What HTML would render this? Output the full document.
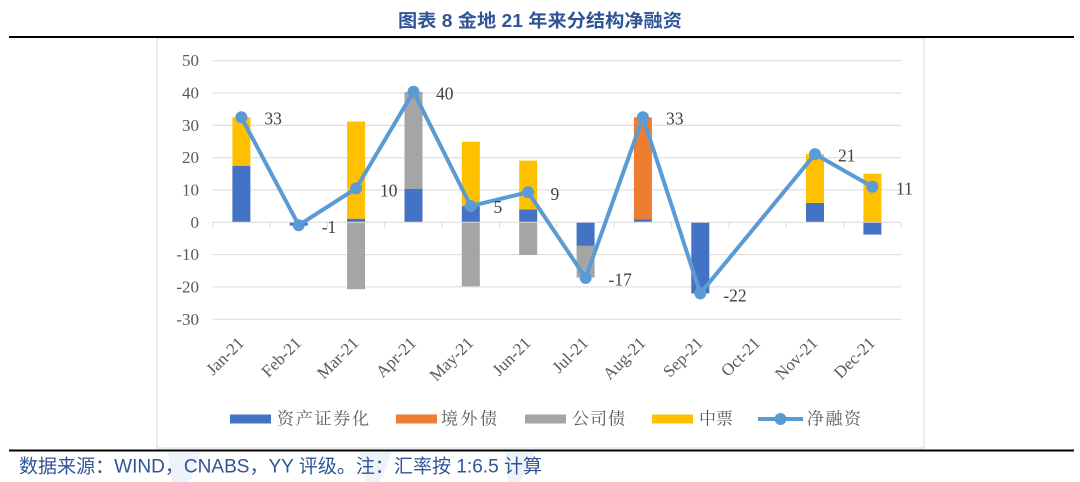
<!DOCTYPE html>
<html>
<head>
<meta charset="utf-8">
<style>
html,body{margin:0;padding:0;background:#fff;}
svg{display:block;}
</style>
</head>
<body>
<svg width="1080" height="482" viewBox="0 0 1080 482" xmlns="http://www.w3.org/2000/svg">
  <rect x="0" y="0" width="1080" height="482" fill="#fff"/>
  <!-- faint watermark -->
  <g fill="#e9f0f8" opacity="0.8">
    <polygon points="168,452 200,452 190,482 172,482"/>
    <polygon points="360,452 392,452 380,482 366,482"/>
    <polygon points="505,452 535,452 520,482 508,482"/>
  </g>

  <!-- title -->
  <text x="540" y="21" text-anchor="middle" dominant-baseline="central" font-family="'Liberation Sans','Noto Sans CJK SC',sans-serif" font-size="18" font-weight="bold" fill="#2f5597" textLength="284" lengthAdjust="spacingAndGlyphs">图表 8 金地 21 年来分结构净融资</text>

  <!-- chart box -->
  <rect x="157" y="38" width="767" height="410" fill="#fff" stroke="#d9d9d9" stroke-width="1"/>

  <!-- top / bottom rules -->
  <rect x="9" y="36" width="1065" height="2" fill="#000"/>
  <rect x="9" y="449.5" width="1065" height="2" fill="#000"/>

  <!-- gridlines -->
  <g stroke="#d9d9d9" stroke-width="1">
    <line x1="212.7" x2="901" y1="60.7" y2="60.7"/>
    <line x1="212.7" x2="901" y1="93" y2="93"/>
    <line x1="212.7" x2="901" y1="125.3" y2="125.3"/>
    <line x1="212.7" x2="901" y1="157.7" y2="157.7"/>
    <line x1="212.7" x2="901" y1="189.9" y2="189.9"/>
    <line x1="212.7" x2="901" y1="254.6" y2="254.6"/>
    <line x1="212.7" x2="901" y1="286.9" y2="286.9"/>
    <line x1="212.7" x2="901" y1="319.3" y2="319.3"/>
  </g>

  <!-- y labels -->
  <g font-family="'Liberation Serif',serif" font-size="17" fill="#595959" text-anchor="end" dominant-baseline="central">
    <text x="199" y="60.7">50</text>
    <text x="199" y="93">40</text>
    <text x="199" y="125.3">30</text>
    <text x="199" y="157.7">20</text>
    <text x="199" y="189.9">10</text>
    <text x="199" y="222.3">0</text>
    <text x="199" y="254.6">-10</text>
    <text x="199" y="286.9">-20</text>
    <text x="199" y="319.3">-30</text>
  </g>

  <!-- bars -->
  <!-- Jan -->
  <rect x="232.4" y="165.7" width="18" height="56.6" fill="#4472c4"/>
  <rect x="232.4" y="117.3" width="18" height="48.4" fill="#ffc000"/>
  <!-- Feb -->
  <rect x="289.7" y="222.3" width="18" height="3.3" fill="#4472c4"/>
  <!-- Mar -->
  <rect x="347.1" y="218.7" width="18" height="3.6" fill="#4472c4"/>
  <rect x="347.1" y="121.5" width="18" height="97.2" fill="#ffc000"/>
  <rect x="347.1" y="222.3" width="18" height="66.9" fill="#a5a5a5"/>
  <!-- Apr -->
  <rect x="404.5" y="189" width="18" height="33.3" fill="#4472c4"/>
  <rect x="404.5" y="92" width="18" height="97" fill="#a5a5a5"/>
  <!-- May -->
  <rect x="461.8" y="206.1" width="18" height="16.2" fill="#4472c4"/>
  <rect x="461.8" y="141.8" width="18" height="64.3" fill="#ffc000"/>
  <rect x="461.8" y="222.3" width="18" height="64" fill="#a5a5a5"/>
  <!-- Jun -->
  <rect x="519.2" y="209.4" width="18" height="12.9" fill="#4472c4"/>
  <rect x="519.2" y="160.6" width="18" height="48.8" fill="#ffc000"/>
  <rect x="519.2" y="222.3" width="18" height="32.6" fill="#a5a5a5"/>
  <!-- Jul -->
  <rect x="576.6" y="222.3" width="18" height="23.6" fill="#4472c4"/>
  <rect x="576.6" y="245.9" width="18" height="31.7" fill="#a5a5a5"/>
  <!-- Aug -->
  <rect x="633.9" y="219.1" width="18" height="3.2" fill="#4472c4"/>
  <rect x="633.9" y="117.3" width="18" height="101.8" fill="#ed7d31"/>
  <!-- Sep -->
  <rect x="691.3" y="222.3" width="18" height="71.1" fill="#4472c4"/>
  <!-- Nov -->
  <rect x="806" y="202.9" width="18" height="19.4" fill="#4472c4"/>
  <rect x="806" y="154.1" width="18" height="48.8" fill="#ffc000"/>
  <!-- Dec -->
  <rect x="863.4" y="222.3" width="18" height="12.3" fill="#4472c4"/>
  <rect x="863.4" y="173.8" width="18" height="48.5" fill="#ffc000"/>

  <!-- zero axis and ticks -->
  <g stroke="#d9d9d9" stroke-width="1">
    <line x1="212.7" x2="901" y1="222.3" y2="222.3"/>
    <line x1="212.7" x2="212.7" y1="222.3" y2="227.5"/>
    <line x1="270.1" x2="270.1" y1="222.3" y2="227.5"/>
    <line x1="327.4" x2="327.4" y1="222.3" y2="227.5"/>
    <line x1="384.8" x2="384.8" y1="222.3" y2="227.5"/>
    <line x1="442.1" x2="442.1" y1="222.3" y2="227.5"/>
    <line x1="499.5" x2="499.5" y1="222.3" y2="227.5"/>
    <line x1="556.9" x2="556.9" y1="222.3" y2="227.5"/>
    <line x1="614.2" x2="614.2" y1="222.3" y2="227.5"/>
    <line x1="671.6" x2="671.6" y1="222.3" y2="227.5"/>
    <line x1="728.9" x2="728.9" y1="222.3" y2="227.5"/>
    <line x1="786.3" x2="786.3" y1="222.3" y2="227.5"/>
    <line x1="843.7" x2="843.7" y1="222.3" y2="227.5"/>
    <line x1="901" x2="901" y1="222.3" y2="227.5"/>
  </g>

  <!-- net line -->
  <polyline points="241.4,117.3 298.7,225.2 356.1,188.4 413.5,91.7 470.8,206.1 528.2,192.2 585.6,277.9 642.9,117.3 700.3,293.4 815,154.1 872.4,186.7" fill="none" stroke="#5b9bd5" stroke-width="4" stroke-linejoin="round"/>
  <g fill="#5b9bd5">
    <circle cx="241.4" cy="117.3" r="6"/>
    <circle cx="298.7" cy="225.2" r="6"/>
    <circle cx="356.1" cy="188.4" r="6"/>
    <circle cx="413.5" cy="91.7" r="6"/>
    <circle cx="470.8" cy="206.1" r="6"/>
    <circle cx="528.2" cy="192.2" r="6"/>
    <circle cx="585.6" cy="277.9" r="6"/>
    <circle cx="642.9" cy="117.3" r="6"/>
    <circle cx="700.3" cy="293.4" r="6"/>
    <circle cx="815" cy="154.1" r="6"/>
    <circle cx="872.4" cy="186.7" r="6"/>
  </g>

  <!-- data labels -->
  <g font-family="'Liberation Serif',serif" font-size="17.5" fill="#404040" dominant-baseline="central">
    <text x="264.4" y="118.5">33</text>
    <text x="321.7" y="227">-1</text>
    <text x="380" y="190.5">10</text>
    <text x="436" y="93.5">40</text>
    <text x="493.5" y="207">5</text>
    <text x="550.5" y="194">9</text>
    <text x="608.5" y="279.5">-17</text>
    <text x="666" y="118.5">33</text>
    <text x="723.3" y="295.5">-22</text>
    <text x="838" y="155.5">21</text>
    <text x="896" y="188.5">11</text>
  </g>

  <!-- x labels -->
  <g font-family="'Liberation Serif',serif" font-size="17" fill="#595959" text-anchor="end">
    <text transform="translate(245,344) rotate(-45)">Jan-21</text>
    <text transform="translate(302.3,344) rotate(-45)">Feb-21</text>
    <text transform="translate(359.7,344) rotate(-45)">Mar-21</text>
    <text transform="translate(417.1,344) rotate(-45)">Apr-21</text>
    <text transform="translate(474.4,344) rotate(-45)">May-21</text>
    <text transform="translate(531.8,344) rotate(-45)">Jun-21</text>
    <text transform="translate(589.2,344) rotate(-45)">Jul-21</text>
    <text transform="translate(646.5,344) rotate(-45)">Aug-21</text>
    <text transform="translate(703.9,344) rotate(-45)">Sep-21</text>
    <text transform="translate(761.2,344) rotate(-45)">Oct-21</text>
    <text transform="translate(818.6,344) rotate(-45)">Nov-21</text>
    <text transform="translate(876,344) rotate(-45)">Dec-21</text>
  </g>

  <!-- legend -->
  <rect x="230" y="414.5" width="41" height="9" fill="#4472c4"/>
  <rect x="396" y="414.5" width="41" height="9" fill="#ed7d31"/>
  <rect x="525" y="414.5" width="41" height="9" fill="#a5a5a5"/>
  <rect x="652" y="414.5" width="41" height="9" fill="#ffc000"/>
  <line x1="758" x2="803" y1="419" y2="419" stroke="#5b9bd5" stroke-width="4"/>
  <circle cx="780.5" cy="419" r="6" fill="#5b9bd5"/>
  <g font-family="'Liberation Serif','Noto Serif CJK SC',serif" font-size="17" fill="#595959" dominant-baseline="central">
    <text x="277" y="419" textLength="92" lengthAdjust="spacing">资产证券化</text>
    <text x="441" y="419" textLength="56" lengthAdjust="spacing">境外债</text>
    <text x="572" y="419" textLength="53" lengthAdjust="spacing">公司债</text>
    <text x="699" y="419" textLength="34" lengthAdjust="spacing">中票</text>
    <text x="807" y="419" textLength="54" lengthAdjust="spacing">净融资</text>
  </g>

  <!-- footer -->
  <text x="19" y="467" dominant-baseline="central" font-family="'Liberation Sans','Noto Sans CJK SC',sans-serif" font-size="19" fill="#2f5597" textLength="523" lengthAdjust="spacingAndGlyphs">数据来源：WIND，CNABS，YY 评级。注：汇率按 1:6.5 计算</text>
</svg>
</body>
</html>
